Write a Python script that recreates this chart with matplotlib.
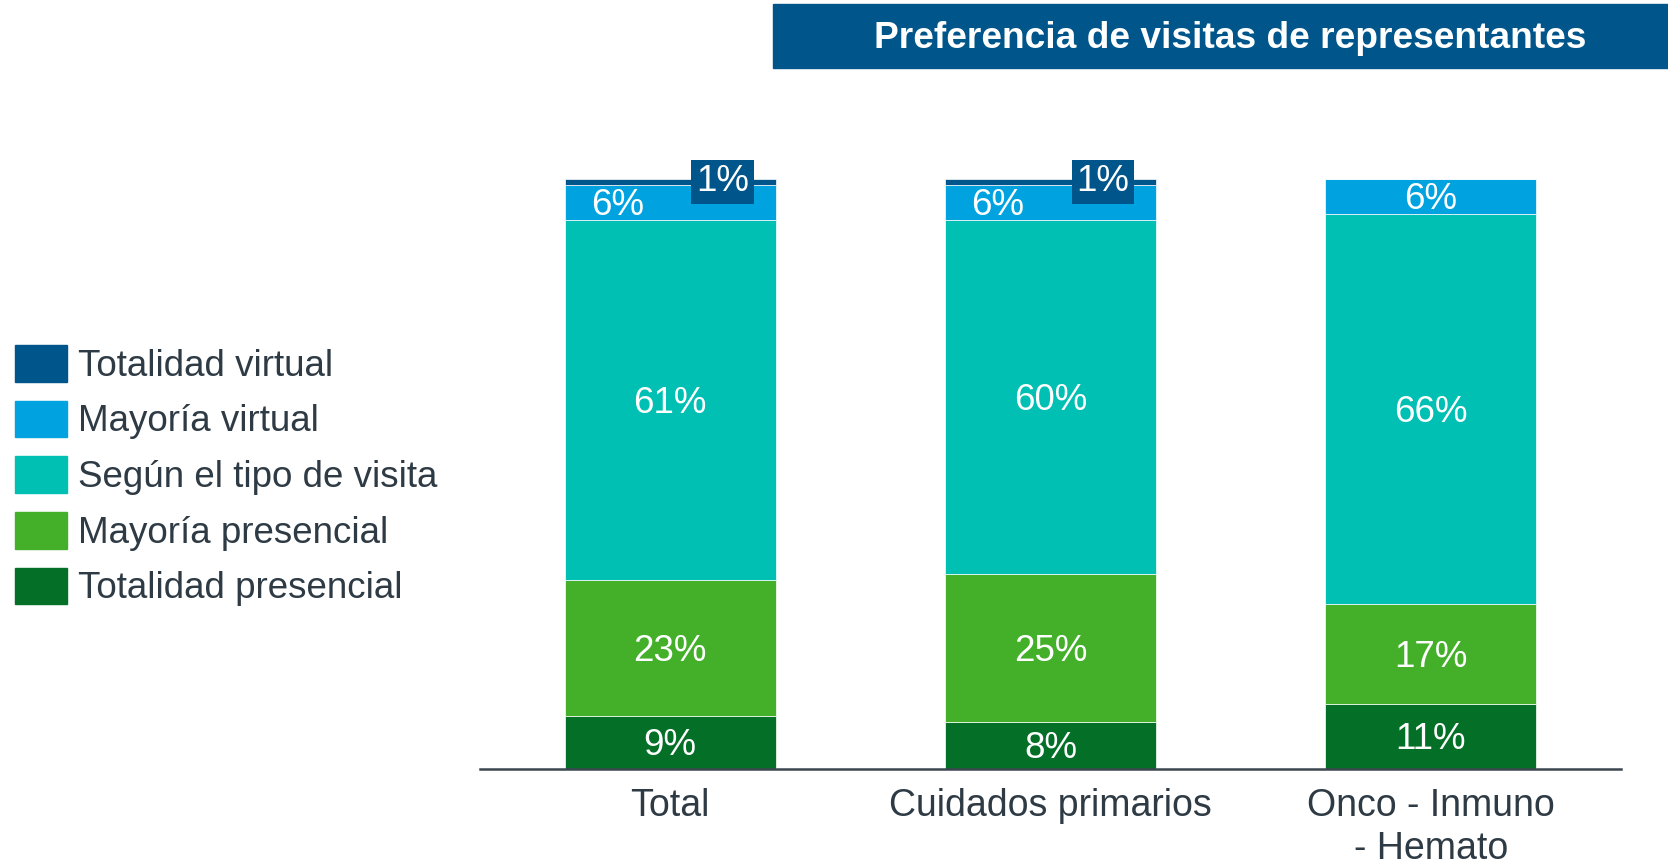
import matplotlib.pyplot as plt
from matplotlib.patches import Rectangle, Patch

plt.rcParams['font.family'] = ['Liberation Sans', 'DejaVu Sans']

categories = ["Total", "Cuidados primarios", "Onco - Inmuno\n- Hemato"]
series_names = ["Totalidad presencial", "Mayoría presencial", "Según el tipo de visita",
                "Mayoría virtual", "Totalidad virtual"]
totalidad_presencial = [9, 8, 11]
mayoria_presencial = [23, 25, 17]
segun_tipo = [61, 60, 66]
mayoria_virtual = [6, 6, 6]
totalidad_virtual = [1, 1, 0]

colors = ["#046F26", "#44B02A", "#00BFB3", "#00A3E0", "#00558A"]
text_dark = "#2E3B45"

W, H = 1668, 865
fig = plt.figure(figsize=(W / 100, H / 100), dpi=100)
ax = fig.add_axes([480 / W, 96 / H, 1141 / W, 590 / H])

series = [totalidad_presencial, mayoria_presencial, segun_tipo, mayoria_virtual, totalidad_virtual]
x = range(len(categories))
width = 0.554
bottoms = [0] * len(categories)
for vals, col, name in zip(series, colors, series_names):
    ax.bar(x, vals, width, bottom=bottoms, color=col, edgecolor="white", linewidth=0.5, label=name)
    for i, v in enumerate(vals):
        if v == 0:
            continue
        yc = bottoms[i] + v / 2
        xc = i
        if name == "Mayoría virtual" and totalidad_virtual[i] > 0:
            xc = i - 0.138
        if name == "Totalidad virtual":
            ax.text(i + 0.138, yc, f"{v}%", ha="center", va="center", color="white",
                    fontsize=26.5, bbox=dict(boxstyle="square,pad=0.13", fc=col, ec="none"))
        else:
            ax.annotate(f"{v}%", (xc, yc), xytext=(0, -2.3), textcoords="offset points",
                        ha="center", va="center", color="white", fontsize=26.5)
    bottoms = [b + v for b, v in zip(bottoms, vals)]

ax.set_xlim(-0.5, 2.5)
ax.set_ylim(0, 100)
ax.set_yticks([])
for s in ["top", "right", "left"]:
    ax.spines[s].set_visible(False)
ax.spines["bottom"].set_color("#3C4650")
ax.spines["bottom"].set_linewidth(1.8)
ax.set_xticks(list(x))
ax.set_xticklabels(categories, fontsize=27, color=text_dark, linespacing=1.22, va="top")
ax.tick_params(axis="x", length=0, pad=14)

# legend, top entry first
handles = [Patch(color=c) for c in colors[::-1]]
fig.legend(handles, series_names[::-1], loc="center left", bbox_to_anchor=(0.0, 0.45),
           frameon=False, fontsize=26.5, handlelength=1.41, handleheight=1.15,
           handletextpad=0.32, labelspacing=0.46, borderaxespad=0.0, borderpad=0.4,
           labelcolor=text_dark)

# header banner
fig.patches.append(Rectangle((773 / W, 1 - 68 / H), (W - 773) / W, 64 / H,
                             transform=fig.transFigure, color="#00558A", zorder=0))
fig.text(1230 / W, 1 - 39 / H, "Preferencia de visitas de representantes", ha="center",
         va="center", color="white", fontsize=26.7, fontweight="bold")

fig.savefig("out.png", dpi=100)
